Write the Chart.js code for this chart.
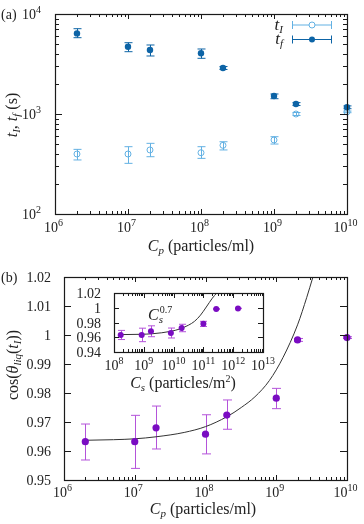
<!DOCTYPE html>
<html><head><meta charset="utf-8">
<script src="https://cdn.jsdelivr.net/npm/chart.js@4.4.1/dist/chart.umd.min.js"></script>
<style>
html,body{margin:0;padding:0;background:#fff;}
body{width:364px;height:524px;position:relative;overflow:hidden;}
.box{position:absolute;}
</style></head><body>
<div class="box" style="left:0;top:0;width:364px;height:258px"><canvas id="ca"></canvas></div>
<div class="box" style="left:0;top:258px;width:364px;height:266px"><canvas id="cb"></canvas></div>
<div class="box" style="left:60px;top:285px;width:230px;height:110px"><canvas id="cc"></canvas></div>
<script>
// ---------- data ----------
const cpValues = [2e6, 1e7, 2e7, 1e8, 2e8, 1e9, 2e9, 1e10];
const tfValues = [6400, 4710, 4365, 4045, 2884, 1514, 1259, 1167];
const tfLow    = [5794, 4198, 3802, 3606, 2786, 1422, 1216, 1130];
const tfHigh   = [7129, 5164, 4898, 4467, 2985, 1585, 1300, 1205];
const tIValues = [398, 398, 437, 410, 486, 550, 1000, 1050];
const tILow    = [347, 321, 374, 360, 437, 501, 966, 1030];
const tIHigh   = [443, 471, 509, 471, 528, 593, 1035, 1070];
const cosValues = [0.9632, 0.9632, 0.9680, 0.9658, 0.9724, 0.9782, 0.9983, 0.9991];
const cosLow    = [0.9569, 0.9540, 0.9607, 0.9590, 0.9675, 0.9746, 0.9978, 0.9988];
const cosHigh   = [0.9693, 0.9723, 0.9755, 0.9725, 0.9776, 0.9816, 0.9988, 0.9994];
const csValues  = [1.68e8, 8.5e8, 1.74e9, 8.1e9, 1.86e10, 1.0e11, 2.7e11, 1.45e12];
const fitCp  = [2e6, 5e6, 1e7, 2e7, 5e7, 1e8, 2e8, 3.2e8, 5e8, 8e8, 1.25e9, 2e9, 2.7e9, 3.3e9];
const fitCos = [0.9637, 0.9639, 0.9642, 0.9649, 0.9664, 0.9684, 0.9718, 0.9750, 0.9787, 0.9843, 0.9923, 1.0035, 1.0130, 1.0200];
const fitCs     = [1.68e8, 8e8, 2e9, 8e9, 1.6e10, 3.2e10, 5e10, 8e10, 1.25e11, 2e11, 2.8e11];
const fitCosIns = [0.9636, 0.9640, 0.9648, 0.9680, 0.9712, 0.9765, 0.9815, 0.9900, 1.0010, 1.0130, 1.0200];
const cpExps = [6, 7, 8, 9, 10];
const timeExps = [2, 3, 4];
const csExps = [8, 9, 10, 11, 12, 13];
const cosTicks = [0.95, 0.96, 0.97, 0.98, 0.99, 1.00, 1.01, 1.02];
const cosTickLabels = ['0.95', '0.96', '0.97', '0.98', '0.99', '1', '1.01', '1.02'];
const insTicks = [0.94, 0.96, 0.98, 1.00, 1.02];
const insTickLabels = ['0.94', '0.96', '0.98', '1', '1.02'];

// ---------- styles ----------
const SERIF = '"Liberation Serif","DejaVu Serif",serif';
const TF_COLOR = '#0d64a6';
const TI_COLOR = '#63b1e3';
const PURPLE = '#7a0cc2';
const PURPLE_ERR = '#b453da';
const AXIS = '#1a1a1a';
const f = (sz, it) => (it ? 'italic ' : '') + sz + 'px ' + SERIF;
const R = (t, sz, dy) => ({t, f: f(sz, false), dy: dy || 0});
const I = (t, sz, dy) => ({t, f: f(sz, true), dy: dy || 0});

function rich(ctx, segs, x, y, align) {
  let w = 0;
  for (const s of segs) { ctx.font = s.f; s.w = ctx.measureText(s.t).width; w += s.w; }
  let cx = align === 'center' ? x - w / 2 : align === 'right' ? x - w : x;
  ctx.textAlign = 'left'; ctx.textBaseline = 'alphabetic';
  for (const s of segs) { ctx.font = s.f; ctx.fillText(s.t, cx, y + s.dy); cx += s.w; }
}
function pow10(ctx, e, x, y, align) {
  rich(ctx, [R('10', 14), R(String(e), 10, -6)], x, y, align);
}
function line(ctx, x1, y1, x2, y2) { ctx.beginPath(); ctx.moveTo(x1, y1); ctx.lineTo(x2, y2); ctx.stroke(); }

function frameTicks(chart, o) {
  const {ctx, chartArea: a} = chart;
  const xs = chart.scales.x, ys = chart.scales.y;
  ctx.save();
  ctx.strokeStyle = AXIS; ctx.lineWidth = 1;
  const vx = v => Math.round(xs.getPixelForValue(v)) + 0.5;
  const vy = v => Math.round(ys.getPixelForValue(v)) + 0.5;
  const xt = (v, len) => { const p = vx(v); line(ctx, p, a.bottom, p, a.bottom - len); line(ctx, p, a.top, p, a.top + len); };
  const yt = (v, len) => { const p = vy(v); line(ctx, a.left, p, a.left + len, p); line(ctx, a.right, p, a.right - len, p); };
  if (o.xLog) {
    for (let e = o.xLog[0]; e <= o.xLog[1]; e++) {
      xt(Math.pow(10, e), o.xMaj);
      if (e < o.xLog[1]) for (let m = 2; m <= 9; m++) xt(m * Math.pow(10, e), o.xMin);
    }
  }
  if (o.yLog) {
    for (let e = o.yLog[0]; e <= o.yLog[1]; e++) {
      yt(Math.pow(10, e), o.yMaj);
      if (e < o.yLog[1]) for (let m = 2; m <= 9; m++) yt(m * Math.pow(10, e), o.yMin);
    }
  }
  if (o.yLin) for (const v of o.yLin) yt(v, o.yMaj);
  ctx.lineWidth = 1.2;
  ctx.strokeRect(a.left + 0.5, a.top + 0.5, a.right - a.left, a.bottom - a.top);
  ctx.restore();
}

const errorBars = {
  id: 'errorBars',
  beforeDatasetsDraw(chart) {
    const {ctx} = chart;
    chart.data.datasets.forEach((ds, i) => {
      if (!ds.errLow) return;
      const xs = chart.scales.x, ys = chart.scales.y;
      ctx.save(); ctx.strokeStyle = ds.errColor; ctx.lineWidth = 1;
      ds.data.forEach((p, j) => {
        const px = Math.round(xs.getPixelForValue(p.x)) + 0.5;
        const y1 = ys.getPixelForValue(ds.errLow[j]), y2 = ys.getPixelForValue(ds.errHigh[j]);
        const c = ds.capHalf;
        ctx.beginPath();
        ctx.moveTo(px, y1); ctx.lineTo(px, y2);
        ctx.moveTo(px - c, y1); ctx.lineTo(px + c, y1);
        ctx.moveTo(px - c, y2); ctx.lineTo(px + c, y2);
        ctx.stroke();
      });
      ctx.restore();
    });
  }
};

const base = (padding, xr, yr, xType, yType) => ({
  responsive: true, maintainAspectRatio: false, animation: false, events: [],
  layout: {padding},
  plugins: {legend: {display: false}, tooltip: {enabled: false}, title: {display: false}},
  scales: {
    x: {type: xType, min: xr[0], max: xr[1], display: false},
    y: {type: yType, min: yr[0], max: yr[1], display: false}
  }
});
const pts = (xa, ya) => xa.map((x, i) => ({x, y: ya[i]}));

// ---------- panel (a) ----------
const decorA = {
  id: 'decorA',
  afterDraw(chart) {
    const {ctx} = chart;
    frameTicks(chart, {xLog: [6, 10], xMaj: 5, xMin: 3, yLog: [2, 4], yMaj: 7, yMin: 4});
    ctx.save(); ctx.fillStyle = '#222';
    for (const e of cpExps) pow10(ctx, e, chart.scales.x.getPixelForValue(Math.pow(10, e)) - 1.5, 232, 'center');
    for (const e of timeExps) pow10(ctx, e, 41, chart.scales.y.getPixelForValue(Math.pow(10, e)) + 5, 'right');
    rich(ctx, [R('(a)', 14)], 1, 19, 'left');
    rich(ctx, [I('C', 16), I('p', 11, 3), R(' (particles/ml)', 16)], 201, 251, 'center');
    ctx.save(); ctx.translate(12, 115); ctx.rotate(-Math.PI / 2);
    rich(ctx, [I('t', 16), I('I', 11, 3), R(', ', 16), I('t', 16), I('f', 11, 3), R(' (s)', 16)], 0, 5, 'center');
    ctx.restore();
    // legend
    rich(ctx, [I('t', 17), I('I', 11, 3)], 283, 30, 'right');
    rich(ctx, [I('t', 17), I('f', 11, 3)], 283, 44, 'right');
    const leg = [[25, TI_COLOR, false], [39.5, TF_COLOR, true]];
    for (const [ly, col, fill] of leg) {
      ctx.strokeStyle = col; ctx.lineWidth = 1;
      line(ctx, 292, ly, 332, ly);
      line(ctx, 292.5, ly - 4, 292.5, ly + 4);
      line(ctx, 331.5, ly - 4, 331.5, ly + 4);
      ctx.beginPath(); ctx.arc(312, ly, 3, 0, Math.PI * 2);
      if (fill) { ctx.fillStyle = col; ctx.fill(); } else { ctx.fillStyle = '#fff'; ctx.fill(); ctx.stroke(); }
    }
    ctx.restore();
  }
};
new Chart(document.getElementById('ca'), {
  type: 'scatter',
  data: {datasets: [
    {label: 't_f', data: pts(cpValues, tfValues), errLow: tfLow, errHigh: tfHigh, errColor: TF_COLOR, capHalf: 4,
     pointRadius: 3.2, pointBackgroundColor: TF_COLOR, pointBorderColor: TF_COLOR, pointBorderWidth: 0, clip: false},
    {label: 't_I', data: pts(cpValues, tIValues), errLow: tILow, errHigh: tIHigh, errColor: TI_COLOR, capHalf: 4,
     pointRadius: 3, pointBackgroundColor: 'rgba(255,255,255,0)', pointBorderColor: TI_COLOR, pointBorderWidth: 1, clip: false}
  ]},
  options: base({left: 55, top: 14, right: 17, bottom: 44}, [1e6, 1e10], [100, 10000], 'logarithmic', 'logarithmic'),
  plugins: [errorBars, decorA]
});

// ---------- panel (b) ----------
const decorB = {
  id: 'decorB',
  afterDraw(chart) {
    const {ctx} = chart;
    frameTicks(chart, {xLog: [6, 10], xMaj: 5, xMin: 3, yLin: cosTicks, yMaj: 7});
    ctx.save(); ctx.fillStyle = '#222';
    for (const e of cpExps) pow10(ctx, e, chart.scales.x.getPixelForValue(Math.pow(10, e)) - 1.5, 239, 'center');
    cosTicks.forEach((v, i) => rich(ctx, [R(cosTickLabels[i], 14)], 51, chart.scales.y.getPixelForValue(v) + 5, 'right'));
    rich(ctx, [R('(b)', 14)], 1, 24, 'left');
    rich(ctx, [I('C', 16), I('p', 11, 3), R(' (particles/ml)', 16)], 203, 256, 'center');
    ctx.save(); ctx.translate(13, 107); ctx.rotate(-Math.PI / 2);
    rich(ctx, [R('cos(', 16), I('θ', 16), I('liq', 11, 3), R('(', 16), I('t', 16), I('I', 11, 3), R('))', 16)], 0, 5, 'center');
    ctx.restore();
    ctx.restore();
  }
};
new Chart(document.getElementById('cb'), {
  type: 'scatter',
  data: {datasets: [
    {label: 'cos', data: pts(cpValues, cosValues), errLow: cosLow, errHigh: cosHigh, errColor: PURPLE_ERR, capHalf: 4.5,
     pointRadius: 3.6, pointBackgroundColor: PURPLE, pointBorderWidth: 0, clip: false},
    {label: 'fit', data: pts(fitCp, fitCos), showLine: true, pointRadius: 0, borderColor: '#333', borderWidth: 1,
     cubicInterpolationMode: 'monotone'}
  ]},
  options: base({left: 64, top: 19, right: 17, bottom: 44}, [1e6, 1e10], [0.95, 1.02], 'logarithmic', 'linear'),
  plugins: [errorBars, decorB]
});

// ---------- inset ----------
const decorC = {
  id: 'decorC',
  afterDraw(chart) {
    const {ctx} = chart;
    frameTicks(chart, {xLog: [8, 13], xMaj: 5, xMin: 3, yLin: insTicks, yMaj: 5});
    ctx.save(); ctx.fillStyle = '#222';
    for (const e of csExps) pow10(ctx, e, chart.scales.x.getPixelForValue(Math.pow(10, e)), 85, 'center');
    insTicks.forEach((v, i) => rich(ctx, [R(insTickLabels[i], 14)], 41, chart.scales.y.getPixelForValue(v) + 5, 'right'));
    rich(ctx, [I('C', 16), I('s', 11, 3), R(' (particles/m', 16), R('2', 10, -6), R(')', 16)], 123, 103, 'center');
    ctx.font = f(16, true); const wC = ctx.measureText('C').width;
    rich(ctx, [I('C', 16)], 88, 35, 'left');
    rich(ctx, [I('s', 11)], 88 + wC, 38, 'left');
    rich(ctx, [R('0.7', 10)], 88 + wC + 1, 28, 'left');
    ctx.restore();
  }
};
new Chart(document.getElementById('cc'), {
  type: 'scatter',
  data: {datasets: [
    {label: 'cos_s', data: pts(csValues, cosValues), errLow: cosLow, errHigh: cosHigh, errColor: PURPLE_ERR, capHalf: 3.5,
     pointRadius: 3, pointBackgroundColor: PURPLE, pointBorderWidth: 0, clip: false},
    {label: 'fit_s', data: pts(fitCs, fitCosIns), showLine: true, pointRadius: 0, borderColor: '#333', borderWidth: 1,
     cubicInterpolationMode: 'monotone'}
  ]},
  options: base({left: 54, top: 8, right: 27, bottom: 43}, [1e8, 1e13], [0.94, 1.02], 'logarithmic', 'linear'),
  plugins: [errorBars, decorC]
});
</script>
</body></html>
